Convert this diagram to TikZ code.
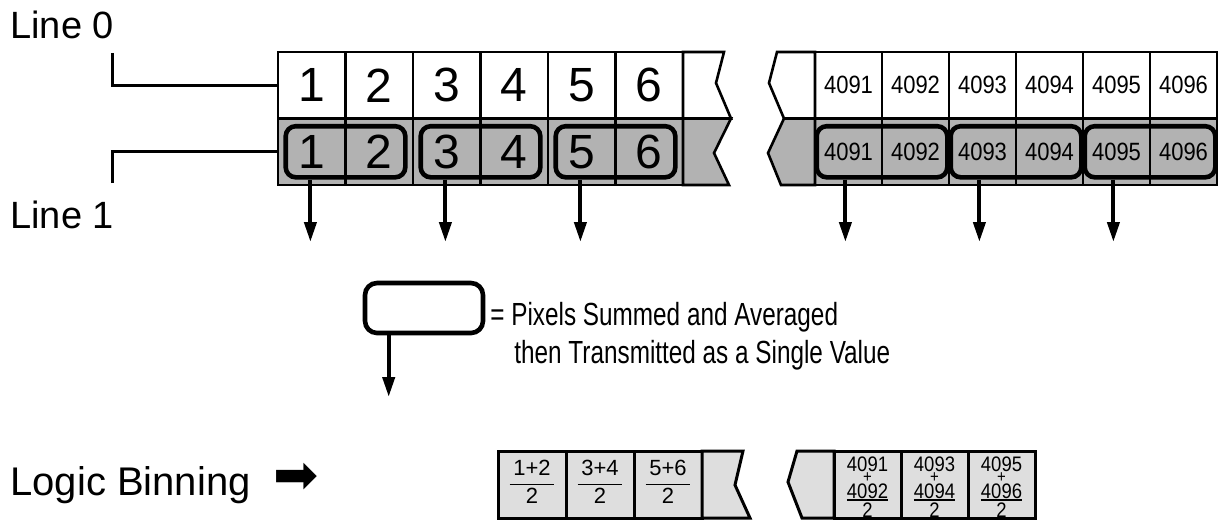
\documentclass[tikz,border=0pt]{standalone}
\usepackage{fontspec}
\setmainfont{Liberation Sans}
\newfontfamily\narrowfont{Liberation Sans}[FakeStretch=0.76]
\newfontfamily\condfont{Liberation Sans}[FakeStretch=0.88]
\newfontfamily\symfont{DejaVu Sans}
\usetikzlibrary{arrows.meta,positioning,fit,calc}
\setlength{\arrayrulewidth}{0.9pt}
\newcommand{\avgfrac}[2]{\begin{tabular}{@{\,}c@{\,}}#1\\\hline #2\end{tabular}}
\newcommand{\sumstack}[3]{\begin{tabular}{@{}c@{}}#1\\[-7.2pt]{\fontsize{8.5}{9}\selectfont+}\\[-4.8pt]#2\\[-3.3pt]\hline\noalign{\vskip -0.6pt}#3\end{tabular}}

\begin{document}
\begin{tikzpicture}[x=0.5pt, y=-0.5pt,
  font=\fontsize{19}{23}\selectfont,
  cell/.style={draw, line width=1.3pt, minimum width=33.75pt, minimum height=33.25pt, inner sep=0pt, font=\fontsize{24}{28}\selectfont},
  upper/.style={cell, fill=white},
  lower/.style={cell, fill=black!30},
  wide/.style={minimum width=33.5pt, font=\condfont\fontsize{12.5}{15}\selectfont},
  piece/.style={draw, line width=1.3pt},
  binbox/.style={draw, line width=2.3pt, rounded corners=5pt, inner sep=0pt},
  outarrow/.style={-{Triangle[width=6pt,length=10pt]}, line width=2pt},
  lead/.style={line width=1.5pt},
  result/.style={draw, line width=1.5pt, fill=black!13, minimum width=34pt, minimum height=33.5pt, inner sep=0pt},
  lab/.style={anchor=base west, inner sep=0pt}]
\useasboundingbox (0,0) rectangle (1222,521);

% line labels
\node[lab] (line0) at (10,38) {Line 0};
\node[lab] (line1) at (10,228) {Line 1};

% left strip
\foreach \i in {1,...,6} {
  \node[upper] (u\i) at ({278+67.5*(\i-0.5)},85.25) {\i};
  \node[lower] (l\i) at ({278+67.5*(\i-0.5)},151.75) {\i};
}
\filldraw[piece, fill=white] (683,52) -- (724,52) -- (716,83) -- (731,118.5) -- (683,118.5) -- cycle;
\filldraw[piece, fill=black!30] (683,118.5) -- (731,118.5) -- (714,153) -- (729,185) -- (683,185) -- cycle;

% right strip
\foreach \n [count=\i] in {4091,...,4096} {
  \node[upper, wide] (ru\i) at ({815+67*(\i-0.5)},85.25) {\n};
  \node[lower, wide] (rl\i) at ({815+67*(\i-0.5)},151.75) {\n};
}
\filldraw[piece, fill=white] (815,52) -- (777,52) -- (769,83) -- (784,118.5) -- (815,118.5) -- cycle;
\filldraw[piece, fill=black!30] (815,118.5) -- (784,118.5) -- (768,153) -- (781,185) -- (815,185) -- cycle;

\draw[lead] ([xshift=-1pt, yshift=-7pt]line0.south east) |- (u1.west);
\draw[lead] ([xshift=-1pt, yshift=8.5pt]line1.north east) |- (l1.west);

% binned pairs
\coordinate (outlevel) at (0,242);
\foreach \a/\b [count=\k] in {1/2,3/4,5/6} {
  \node[binbox, fit=(l\a)(l\b), inner xsep=-4.5pt, inner ysep=-4.5pt] (b\k) {};
  \draw[outarrow] ([xshift=13.5pt]b\k.south west) coordinate (s\k) -- (s\k |- outlevel);
}
\foreach \a/\b [count=\k from 4] in {1/2,3/4,5/6} {
  \node[binbox, fit=(rl\a)(rl\b), inner xsep=-1.5pt, inner ysep=-4.5pt] (b\k) {};
  \draw[outarrow] ([xshift=15.5pt]b\k.south west) coordinate (s\k) -- (s\k |- outlevel);
}

% key
\node[binbox, rounded corners=6pt, minimum width=59pt, minimum height=25pt] (key) at (424,308) {};
\coordinate (keylevel) at (0,397);
\draw[outarrow] ([xshift=13pt]key.south west) coordinate (ks) -- (ks |- keylevel);
\node[lab, font=\narrowfont\fontsize{16}{19}\selectfont] (keytext) at (490,325) {= Pixels Summed and Averaged};
\node[lab, font=\narrowfont\fontsize{16}{19}\selectfont] (keytext2) at (514,363) {then Transmitted as a Single Value};

% logic binning result
\node[lab, font=\fontsize{20}{24}\selectfont] (logic) at (10,495) {Logic Binning};
\node[inner sep=0pt, font=\symfont\fontsize{27}{30}\selectfont] (binarrow) at (296.5,478) {➡};
\foreach \t [count=\i] in {{1+2},{3+4},{5+6}}
  \node[result, font=\fontsize{11}{13.2}\selectfont] (a\i) at ({498+68*(\i-0.5)},484.5) {\avgfrac{\t}{2}};
\filldraw[draw, line width=1.5pt, fill=black!13] (702,451) -- (743,451) -- (735,485) -- (750,518) -- (702,518) -- cycle;
\filldraw[draw, line width=1.5pt, fill=black!13] (834,451) -- (797,451) -- (788,482) -- (802,518) -- (834,518) -- cycle;
\foreach \p/\q [count=\i] in {4091/4092,4093/4094,4095/4096} {
  \node[result, minimum width=33.5pt] (c\i) at ({834+67*(\i-0.5)},484.5) {};
  \node[inner sep=0pt, font=\condfont\fontsize{10.5}{12.6}\selectfont] (sum\i) at ([yshift=-2.6pt]c\i.center) {\sumstack{\p}{\q}{2}};
}
\end{tikzpicture}
\end{document}
